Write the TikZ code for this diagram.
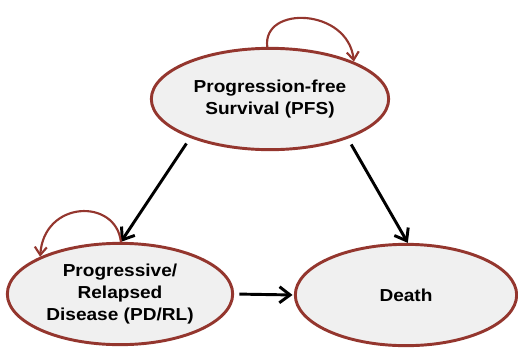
\documentclass[tikz,border=0pt]{standalone}
\usepackage{fontspec}
\setmainfont{Liberation Sans}[FakeStretch=1.1]
\usetikzlibrary{shapes.geometric,arrows.meta}
\definecolor{statered}{RGB}{148,54,46}
\definecolor{statefill}{RGB}{240,240,240}

\begin{document}
\begin{tikzpicture}[x=0.75pt,y=0.75pt,yscale=-1,xscale=1,
    state/.style={ellipse,draw=statered,fill=statefill,line width=2.2pt,inner sep=0pt,
        minimum width=176pt,minimum height=76pt,align=center,
        font=\bfseries\fontsize{13}{16.5}\selectfont},
    move/.style={line width=2.2pt,-{Straight Barb[length=8pt,width=12pt,line width=2.2pt]}},
    stay/.style={draw=statered,line width=1.6pt,-{Straight Barb[length=6pt,width=9pt,line width=1.6pt]}}]
    \useasboundingbox (0,0) rectangle (518,347);

    %Shape: Ellipse [PFS]
    \node [state,minimum width=178pt] (pfs) at (270,99) {Progression-free\\Survival (PFS)};
    %Shape: Ellipse [PD/RL]
    \node [state,minimum width=169pt] (pd) at (120,294) {Progressive/\\Relapsed\\Disease (PD/RL)};
    %Shape: Ellipse [Death]
    \node [state,minimum width=166pt] (death) at (406,295) {Death};

    %Straight Lines
    \draw [move,shorten <=5pt] (pfs.206) -- (pd.89);
    \draw [move,shorten <=5pt] (pfs.333) -- (death.88);
    \draw [move,shorten <=4pt,shorten >=1pt] (pd.east) -- (death.west);

    %Curve Lines
    \draw [stay] (pfs.93) .. controls (262,5) and (348,8) .. (pfs.24);
    \draw [stay] (pd.89) .. controls (116,198) and (44,200) .. (pd.155);
\end{tikzpicture}
\end{document}
